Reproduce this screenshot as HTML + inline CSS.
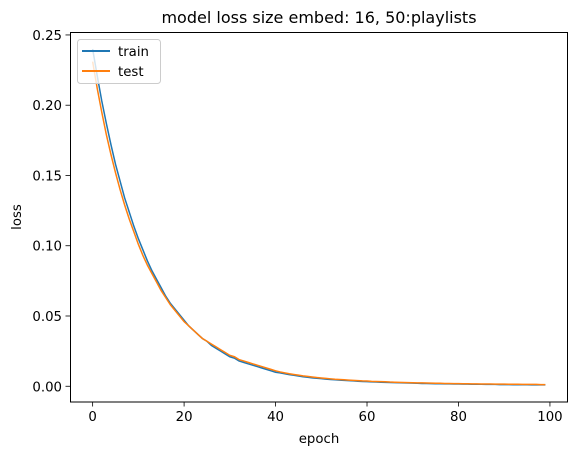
<!DOCTYPE html>
<html><head><meta charset="utf-8"><style>
body{margin:0;background:#fff;}
svg{display:block;font-family:"DejaVu Sans","Liberation Sans",sans-serif;}
</style></head><body>
<svg id="chart" width="576" height="455">
<rect x="0" y="0" width="576" height="455" fill="#fff"/>
<text x="319" y="23" font-size="16" text-anchor="middle" fill="#000">model loss size embed: 16, 50:playlists</text>
<g id="plot"></g>
<rect x="70.5" y="32.5" width="497" height="369.5" fill="none" stroke="#000" stroke-width="1"/>
<g id="xticks"></g>
<g id="yticks"></g>
<text x="319" y="443" font-size="13.3" text-anchor="middle">epoch</text>
<text x="21" y="217" font-size="13.3" text-anchor="middle" transform="rotate(-90 21 217)">loss</text>
<g>
<rect x="77.5" y="39.5" width="83" height="44" rx="3" fill="#fff" fill-opacity="0.8" stroke="#ccc"/>
<line x1="82" y1="51" x2="110" y2="51" stroke="#1f77b4" stroke-width="2"/>
<text x="118" y="56" font-size="13.3">train</text>
<line x1="82" y1="71" x2="110" y2="71" stroke="#ff7f0e" stroke-width="2"/>
<text x="118" y="76" font-size="13.3">test</text>
</g>
</svg>
<script>
const trainLoss=[0.240,0.221,0.203,0.187,0.172,0.158,0.146,0.134,0.124,0.114,0.105,0.097,0.089,0.082,0.076,0.070,0.064,0.059,0.055,0.051,0.047,0.043,0.040,0.037,0.034,0.032,0.029,0.027,0.025,0.023,0.021,0.020,0.018,0.017,0.016,0.015,0.014,0.013,0.012,0.011,0.010,0.0095,0.0089,0.0083,0.0078,0.0073,0.0068,0.0064,0.0060,0.0057,0.0054,0.0051,0.0048,0.0046,0.0044,0.0042,0.0040,0.0038,0.0036,0.0034,0.0033,0.0031,0.0030,0.0029,0.0028,0.0027,0.0026,0.0025,0.0024,0.0023,0.0022,0.0021,0.0020,0.0020,0.0019,0.0018,0.0018,0.0017,0.0017,0.0016,0.0016,0.0015,0.0015,0.0014,0.0014,0.0014,0.0013,0.0013,0.0013,0.0012,0.0012,0.0012,0.0011,0.0011,0.0011,0.0011,0.0010,0.0010,0.0010,0.0010];
const testLoss=[0.231,0.212,0.195,0.179,0.165,0.152,0.140,0.129,0.119,0.110,0.101,0.093,0.086,0.080,0.074,0.068,0.063,0.058,0.054,0.050,0.046,0.043,0.040,0.037,0.034,0.032,0.030,0.028,0.026,0.024,0.022,0.021,0.019,0.018,0.017,0.016,0.015,0.014,0.013,0.012,0.011,0.0102,0.0095,0.0089,0.0084,0.0079,0.0074,0.0070,0.0066,0.0062,0.0059,0.0056,0.0053,0.0050,0.0048,0.0046,0.0044,0.0042,0.0040,0.0038,0.0037,0.0035,0.0034,0.0033,0.0032,0.0030,0.0029,0.0028,0.0027,0.0026,0.0025,0.0024,0.0024,0.0023,0.0022,0.0021,0.0021,0.0020,0.0020,0.0019,0.0019,0.0018,0.0018,0.0017,0.0017,0.0016,0.0016,0.0016,0.0015,0.0015,0.0015,0.0014,0.0014,0.0014,0.0013,0.0013,0.0013,0.0013,0.0012,0.0012];
const xTicks=[0,20,40,60,80,100];
const yTicks=[0.00,0.05,0.10,0.15,0.20,0.25];
const yTickLabels=["0.00","0.05","0.10","0.15","0.20","0.25"];

const NS="http://www.w3.org/2000/svg";
const X0=70,X1=568,Y0=402,Y1=32;
const xmin=-4.95,xmax=103.95;
const ymin=-0.0112,ymax=0.2521;
function sx(v){return X0+(v-xmin)/(xmax-xmin)*(X1-X0);}
function sy(v){return Y0-(v-ymin)/(ymax-ymin)*(Y0-Y1);}
function mk(t,a,p){const e=document.createElementNS(NS,t);for(const k in a)e.setAttribute(k,a[k]);p.appendChild(e);return e;}

const plot=document.getElementById('plot');
function drawSeries(vals,color,name){
  const d=vals.map((v,i)=>(i?'L':'M')+sx(i).toFixed(2)+','+sy(v).toFixed(2)).join('');
  const p=mk('path',{d:d,fill:'none',stroke:color,'stroke-width':1.5},plot);
  
  
}
drawSeries(trainLoss,'#1f77b4','train-line');
drawSeries(testLoss,'#ff7f0e','test-line');

const xg=document.getElementById('xticks');
xTicks.forEach(t=>{
  const x=sx(t);
  const l=mk('line',{x1:x,y1:Y0,x2:x,y2:Y0+4.5,stroke:'#000','stroke-width':0.8},xg);
  
  
  const tx=mk('text',{x:x,y:Y0+19,'font-size':13.3,'text-anchor':'middle'},xg);
  tx.textContent=String(t);
  
  
});
const yg=document.getElementById('yticks');
yTicks.forEach((t,i)=>{
  const y=sy(t);
  const l=mk('line',{x1:X0-4.5,y1:y,x2:X0,y2:y,stroke:'#000','stroke-width':0.8},yg);
  
  
  const tx=mk('text',{x:X0-8,y:y+5,'font-size':13.3,'text-anchor':'end'},yg);
  tx.textContent=yTickLabels[i];
  
  
});
</script>
</body></html>
